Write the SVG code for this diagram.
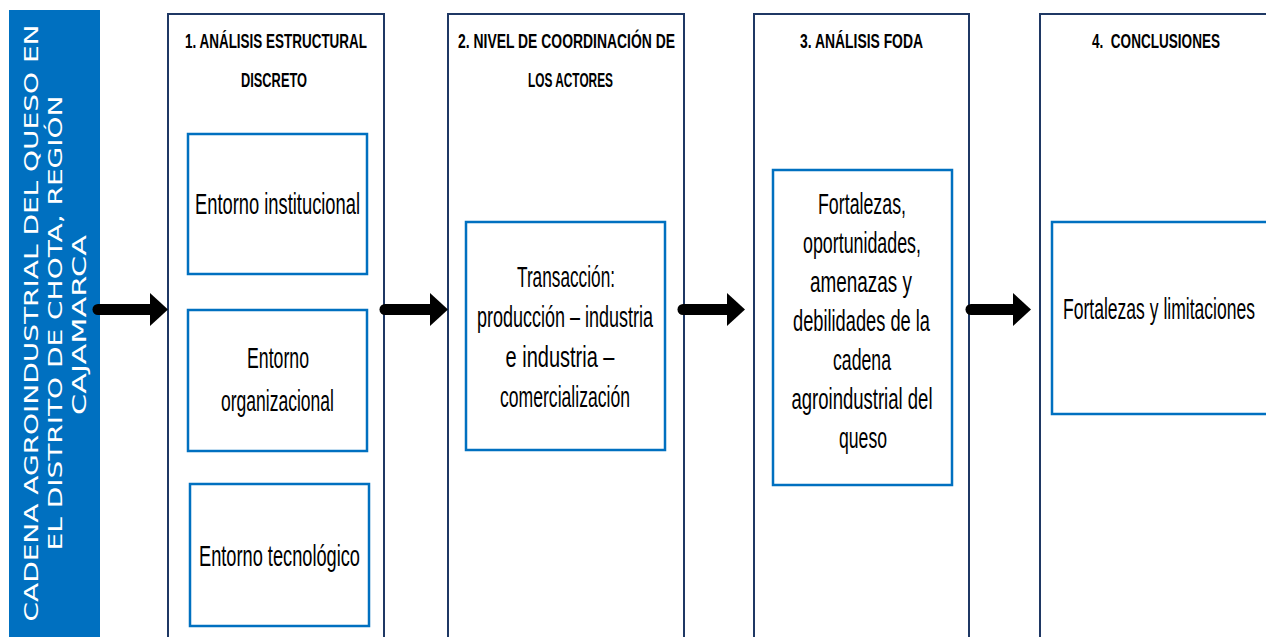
<svg xmlns="http://www.w3.org/2000/svg" width="1266" height="637" viewBox="0 0 1266 637">
<defs>
<style>
.col{fill:#fff;stroke:#1F3864;stroke-width:2}
.box{fill:#fff;stroke:#0070C0;stroke-width:2.5}
.hd{font-family:"Liberation Sans",Arial,sans-serif;font-weight:bold;font-size:21px;fill:#000;text-anchor:middle}
.tx{font-family:"Liberation Sans",Arial,sans-serif;font-size:29px;fill:#000;text-anchor:middle}
.side{font-family:"DejaVu Sans","Liberation Sans",sans-serif;font-size:20px;fill:#fff;text-anchor:middle}
.arr{fill:none;stroke:#000;stroke-width:11;stroke-linecap:round}
</style>
<marker id="head" markerUnits="userSpaceOnUse" markerWidth="20" markerHeight="36" refX="0" refY="16.5" orient="auto">
<path d="M0,0 L18,16.5 L0,33 Z" fill="#000"/>
</marker>
</defs>
<rect width="1266" height="637" fill="#fff"/>

<g id="title">
<rect x="9" y="10" width="91" height="640" fill="#0070C0"/>
<text class="side" transform="translate(38,323) rotate(-90)" textLength="597" lengthAdjust="spacingAndGlyphs">CADENA AGROINDUSTRIAL DEL QUESO EN</text>
<text class="side" transform="translate(62,323) rotate(-90)" textLength="455" lengthAdjust="spacingAndGlyphs">EL DISTRITO DE CHOTA, REGIÓN</text>
<text class="side" transform="translate(86,325) rotate(-90)" textLength="180" lengthAdjust="spacingAndGlyphs">CAJAMARCA</text>
</g>

<g id="col1">
<rect class="col" x="168" y="14" width="216" height="640"/>
<text class="hd" x="276" y="48" textLength="182" lengthAdjust="spacingAndGlyphs">1. ANÁLISIS ESTRUCTURAL</text>
<text class="hd" x="274" y="87" textLength="66" lengthAdjust="spacingAndGlyphs">DISCRETO</text>
</g>
<g id="entorno-institucional">
<rect class="box" x="188" y="134" width="179" height="140"/>
<text class="tx" x="277.5" y="214" textLength="165" lengthAdjust="spacingAndGlyphs">Entorno institucional</text>
</g>
<g id="entorno-organizacional">
<rect class="box" x="188" y="310" width="179" height="141"/>
<text class="tx" x="278" y="368" textLength="62" lengthAdjust="spacingAndGlyphs">Entorno</text>
<text class="tx" x="277.5" y="411" textLength="113" lengthAdjust="spacingAndGlyphs">organizacional</text>
</g>
<g id="entorno-tecnologico">
<rect class="box" x="190" y="484" width="179" height="142"/>
<text class="tx" x="279.5" y="566" textLength="161" lengthAdjust="spacingAndGlyphs">Entorno tecnológico</text>
</g>

<g id="col2">
<rect class="col" x="448" y="14" width="236" height="640"/>
<text class="hd" x="566.5" y="48" textLength="217" lengthAdjust="spacingAndGlyphs">2. NIVEL DE COORDINACIÓN DE</text>
<text class="hd" x="570.5" y="87" textLength="85" lengthAdjust="spacingAndGlyphs">LOS ACTORES</text>
</g>
<g id="transaccion">
<rect class="box" x="466" y="222" width="199" height="228"/>
<text class="tx" x="566" y="287" textLength="98" lengthAdjust="spacingAndGlyphs">Transacción:</text>
<text class="tx" x="565" y="327" textLength="176" lengthAdjust="spacingAndGlyphs">producción – industria</text>
<text class="tx" x="560" y="367" textLength="109" lengthAdjust="spacingAndGlyphs">e industria –</text>
<text class="tx" x="565" y="407" textLength="130" lengthAdjust="spacingAndGlyphs">comercialización</text>
</g>

<g id="col3">
<rect class="col" x="754" y="14" width="215" height="640"/>
<text class="hd" x="861.5" y="48" textLength="123" lengthAdjust="spacingAndGlyphs">3. ANÁLISIS FODA</text>
</g>
<g id="foda">
<rect class="box" x="773" y="170" width="179" height="315"/>
<text class="tx" x="862" y="214" textLength="88" lengthAdjust="spacingAndGlyphs">Fortalezas,</text>
<text class="tx" x="862" y="253" textLength="118" lengthAdjust="spacingAndGlyphs">oportunidades,</text>
<text class="tx" x="861" y="292" textLength="102" lengthAdjust="spacingAndGlyphs">amenazas y</text>
<text class="tx" x="861.5" y="331" textLength="137" lengthAdjust="spacingAndGlyphs">debilidades de la</text>
<text class="tx" x="862" y="370" textLength="58" lengthAdjust="spacingAndGlyphs">cadena</text>
<text class="tx" x="862" y="409" textLength="141" lengthAdjust="spacingAndGlyphs">agroindustrial del</text>
<text class="tx" x="863" y="448" textLength="48" lengthAdjust="spacingAndGlyphs">queso</text>
</g>

<g id="col4">
<rect class="col" x="1040" y="14" width="240" height="640"/>
<text class="hd" x="1156" y="48" textLength="128" lengthAdjust="spacingAndGlyphs" xml:space="preserve" style="white-space:pre">4.  CONCLUSIONES</text>
</g>
<g id="conclusiones">
<rect class="box" x="1052" y="222" width="230" height="192"/>
<text class="tx" x="1159" y="319" textLength="192" lengthAdjust="spacingAndGlyphs">Fortalezas y limitaciones</text>
</g>

<g id="connectors">
<path class="arr" d="M98,309.5 L150,309.5" marker-end="url(#head)"/>
<path class="arr" d="M385,309.5 L430,309.5" marker-end="url(#head)"/>
<path class="arr" d="M683,309.5 L727,309.5" marker-end="url(#head)"/>
<path class="arr" d="M971,309.5 L1013,309.5" marker-end="url(#head)"/>
</g>
</svg>
